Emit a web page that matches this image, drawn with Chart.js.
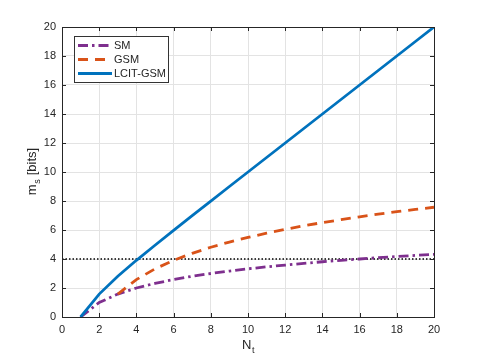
<!DOCTYPE html>
<html>
<head>
<meta charset="utf-8">
<script src="https://cdn.jsdelivr.net/npm/chart.js@4/dist/chart.umd.min.js"></script>
<style>
html,body{margin:0;padding:0;background:#fff;}
#wrap{width:480px;height:360px;}
</style>
</head>
<body>
<div id="wrap"><canvas id="c" width="480" height="360"></canvas></div>
<script>
// ---- data ----
const Nt = [1,2,3,4,5,6,7,8,9,10,11,12,13,14,15,16,17,18,19,20];
const smBits = [0,1.0,1.58,2.0,2.32,2.58,2.81,3.0,3.17,3.32,3.46,3.58,3.7,3.81,3.91,4.0,4.09,4.17,4.25,4.32];
const gsmBits = [null,null,1.58,2.58,3.32,3.91,4.39,4.81,5.17,5.49,5.78,6.04,6.29,6.51,6.71,6.91,7.09,7.26,7.42,7.57];
const lcitBits = [0,1.58,2.81,3.91,4.95,5.98,6.99,7.99,9.0,10.0,11.0,12.0,13.0,14.0,15.0,16.0,17.0,18.0,19.0,20.0];
const refX = [0,20];
const refY = [4,4];
const xTicks = [0,2,4,6,8,10,12,14,16,18,20];
const yTicks = [0,2,4,6,8,10,12,14,16,18,20];
const seriesNames = ['SM','GSM','LCIT-GSM'];

const COL_SM = '#7E2F8E', COL_GSM = '#D95319', COL_LCIT = '#0072BD';
const AXC = '#262626';
const FONT = '"Liberation Sans", Arial, Helvetica, sans-serif';

function pts(xs, ys){ const o=[]; xs.forEach((x,i)=>{ if(ys[i]!==null) o.push({x:x,y:ys[i]}); }); return o; }

const dashes = { SM:[10,4,2.5,4], GSM:[10,7], 'LCIT-GSM':[] };
const colors = { SM:COL_SM, GSM:COL_GSM, 'LCIT-GSM':COL_LCIT };
const LW = 2.8;

const framePlugin = {
  id:'frame',
  afterDatasetsDraw(chart){
    const ctx = chart.ctx, a = chart.chartArea;
    const xs = chart.scales.x, ys = chart.scales.y;
    ctx.save();
    ctx.strokeStyle = AXC; ctx.lineWidth = 1;
    ctx.strokeRect(Math.round(a.left)+0.5, Math.round(a.top)+0.5, Math.round(a.right-a.left), Math.round(a.bottom-a.top));
    const L = 4;
    ctx.beginPath();
    xTicks.forEach(v=>{
      const px = Math.round(xs.getPixelForValue(v))+0.5;
      ctx.moveTo(px, a.bottom); ctx.lineTo(px, a.bottom-L);
      ctx.moveTo(px, a.top); ctx.lineTo(px, a.top+L);
    });
    yTicks.forEach(v=>{
      const py = Math.round(ys.getPixelForValue(v))+0.5;
      ctx.moveTo(a.left, py); ctx.lineTo(a.left+L, py);
      ctx.moveTo(a.right, py); ctx.lineTo(a.right-L, py);
    });
    ctx.stroke();
    ctx.fillStyle = AXC;
    ctx.textBaseline = 'alphabetic';
    const cx = (a.left+a.right)/2;
    ctx.font = '13px '+FONT;
    const wN = ctx.measureText('N').width;
    ctx.font = '9px '+FONT;
    const wt = ctx.measureText('t').width;
    let sx = cx - (wN+wt)/2;
    ctx.font = '13px '+FONT; ctx.textAlign='left';
    ctx.fillText('N', sx, 349);
    ctx.font = '9px '+FONT;
    ctx.fillText('t', sx+wN+0.5, 353);
    ctx.save();
    ctx.translate(36, (a.top+a.bottom)/2);
    ctx.rotate(-Math.PI/2);
    ctx.font = '13px '+FONT;
    const wm = ctx.measureText('m').width;
    const wb = ctx.measureText(' [bits]').width;
    ctx.font = '9px '+FONT;
    const ws = ctx.measureText('s').width;
    let ty = -(wm+ws+wb)/2;
    ctx.font = '13px '+FONT;
    ctx.fillText('m', ty, 0);
    ctx.font = '9px '+FONT;
    ctx.fillText('s', ty+wm+0.5, 4);
    ctx.font = '13px '+FONT;
    ctx.fillText(' [bits]', ty+wm+ws+1, 0);
    ctx.restore();
    const lx=74, ly=36, lw=94, lh=46;
    ctx.fillStyle='#fff';
    ctx.fillRect(lx,ly,lw,lh);
    ctx.strokeStyle='#333'; ctx.lineWidth=1;
    ctx.strokeRect(lx+0.5,ly+0.5,lw,lh);
    const rows=[45.5,59.5,73.5];
    seriesNames.forEach((n,i)=>{
      ctx.beginPath();
      ctx.strokeStyle=colors[n]; ctx.lineWidth=LW; ctx.setLineDash(dashes[n]);
      ctx.moveTo(78, rows[i]); ctx.lineTo(112, rows[i]); ctx.stroke();
      ctx.setLineDash([]);
      ctx.fillStyle=AXC; ctx.font='11px '+FONT; ctx.textAlign='left'; ctx.textBaseline='middle';
      ctx.fillText(n, 114, rows[i]+0.5);
    });
    ctx.restore();
  }
};

new Chart(document.getElementById('c'), {
  type:'line',
  data:{
    datasets:[
      {label:'ref', data:pts(refX,refY), borderColor:'#000', borderWidth:1.5, borderDash:[1.5,2], pointRadius:0, order:3, fill:false},
      {label:'SM', data:pts(Nt,smBits), borderColor:COL_SM, borderWidth:LW, borderDash:dashes.SM, pointRadius:0, order:2, fill:false},
      {label:'GSM', data:pts(Nt,gsmBits), borderColor:COL_GSM, borderWidth:LW, borderDash:dashes.GSM, pointRadius:0, order:1, fill:false},
      {label:'LCIT-GSM', data:pts(Nt,lcitBits), borderColor:COL_LCIT, borderWidth:LW, pointRadius:0, order:0, fill:false}
    ]
  },
  options:{
    responsive:false, animation:false, devicePixelRatio:1,
    layout:{padding:{left:0,top:27,right:46,bottom:0}},
    plugins:{legend:{display:false}, tooltip:{enabled:false}},
    elements:{line:{tension:0}},
    scales:{
      x:{type:'linear', min:0, max:20,
         afterBuildTicks(s){ s.ticks = xTicks.map(v=>({value:v})); },
         afterFit(s){ s.height = 43; },
         grid:{color:'#e3e3e3', drawTicks:false},
         border:{display:false},
         ticks:{color:AXC, font:{family:FONT, size:11}, padding:6, maxRotation:0}
      },
      y:{type:'linear', min:0, max:20,
         afterBuildTicks(s){ s.ticks = yTicks.map(v=>({value:v})); },
         afterFit(s){ s.width = 62; },
         grid:{color:'#e3e3e3', drawTicks:false},
         border:{display:false},
         ticks:{color:AXC, font:{family:FONT, size:11}, padding:6}
      }
    }
  },
  plugins:[framePlugin]
});
</script>
</body>
</html>
